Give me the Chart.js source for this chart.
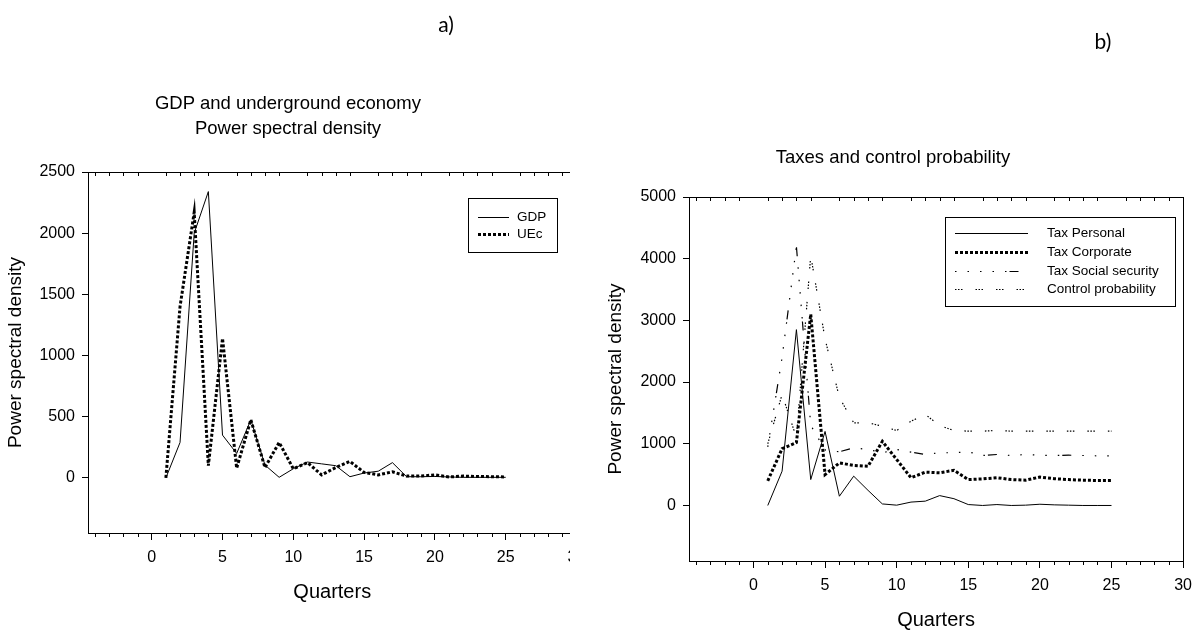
<!DOCTYPE html>
<html>
<head>
<meta charset="utf-8">
<script src="https://cdn.jsdelivr.net/npm/chart.js@4.4.1/dist/chart.umd.min.js"></script>
<style>
  html, body { margin: 0; padding: 0; background: #fff; }
  body { width: 1200px; height: 634px; position: relative; overflow: hidden;
         font-family: "Liberation Sans", Arial, sans-serif; color: #000; }
  .panel { position: absolute; top: 0; height: 634px; overflow: hidden; }
  #wrapA { left: 0; width: 570px; }
  #wrapB { left: 600px; width: 600px; }
  .txt { position: absolute; white-space: nowrap; transform: translate(-50%, -50%); }
  .tag { font-family: Lato, "Open Sans", sans-serif; font-size: 21px; }
  .ttl { font-size: 18.5px; }
</style>
</head>
<body>
<div class="panel" id="wrapA"><canvas id="chartA" width="600" height="634"></canvas></div>
<div class="panel" id="wrapB"><canvas id="chartB" width="600" height="634"></canvas></div>

<div class="txt tag" style="left:446px; top:23px;">a)</div>
<div class="txt tag" style="left:1103px; top:40px;">b)</div>
<div class="txt ttl" style="left:288px; top:103px;">GDP and underground economy</div>
<div class="txt ttl" style="left:288px; top:128px;">Power spectral density</div>
<div class="txt ttl" style="left:893px; top:157px;">Taxes and control probability</div>

<script>
// quarters on the x axis
const quarters = [1, 2, 3, 4, 5, 6, 7, 8, 9, 10, 11, 12, 13, 14, 15, 16, 17, 18, 19, 20, 21, 22, 23, 24, 25];

// a) GDP and underground economy
const gdp = [0, 290, 2000, 2340, 350, 200, 475, 105, 5, 75, 130, 115, 100, 10, 40, 55, 125, 10, 10, 12, 8, 5, 5, 5, 5];
const uec = [0, 1400, 2170, 100, 1140, 80, 475, 85, 290, 75, 125, 25, 85, 135, 45, 25, 50, 15, 15, 25, 8, 15, 12, 10, 8];

// b) taxes and control probability
const taxPersonal = [0, 556, 2850, 420, 1200, 150, 475, 245, 25, 5, 55, 70, 160, 110, 15, 0, 15, 0, 5, 20, 10, 5, 0, 0, 0];
const taxCorporate = [400, 920, 1020, 3100, 500, 690, 650, 635, 1040, 745, 450, 540, 530, 570, 420, 430, 450, 420, 410, 460, 435, 420, 410, 405, 405];
const taxSocial = [950, 2400, 4200, 1300, 900, 870, 935, 908, 855, 908, 865, 826, 855, 855, 870, 810, 826, 810, 826, 815, 810, 815, 810, 805, 805];
const controlProb = [1000, 1800, 1100, 4050, 2700, 1750, 1340, 1340, 1285, 1215, 1365, 1475, 1295, 1215, 1205, 1205, 1215, 1205, 1205, 1205, 1205, 1205, 1205, 1205, 1205];

// tick values
const xMajorTicks = [0, 5, 10, 15, 20, 25, 30];
const xMinorTicks = [-4, -3, -2, -1, 0, 1, 2, 3, 4, 5, 6, 7, 8, 9, 10, 11, 12, 13, 14, 15, 16, 17, 18, 19, 20, 21, 22, 23, 24, 25, 26, 27, 28, 29, 30];
const yTicksA = [0, 500, 1000, 1500, 2000, 2500];
const yTicksB = [0, 1000, 2000, 3000, 4000, 5000];

Chart.defaults.color = '#000';
Chart.defaults.font.family = '"Liberation Sans", Arial, sans-serif';

const toPoints = (ys) => ys.map((y, i) => ({x: quarters[i], y: y}));

// frame round the plot area + minor ticks (bottom outward, top inward)
const frameTicks = {
    id: 'frameTicks',
    afterDraw(chart) {
        const {ctx, chartArea: a, scales: {x}} = chart;
        ctx.save();
        ctx.strokeStyle = '#000';
        ctx.lineWidth = 1;
        ctx.strokeRect(Math.round(a.left) + 0.5, Math.round(a.top) + 0.5,
            Math.round(a.right - a.left), Math.round(a.bottom - a.top));
        ctx.beginPath();
        xMinorTicks.forEach(v => {
            if (xMajorTicks.includes(v)) return;
            const px = Math.round(x.getPixelForValue(v)) + 0.5;
            ctx.moveTo(px, a.bottom);
            ctx.lineTo(px, a.bottom + 4);
            ctx.moveTo(px, a.top);
            ctx.lineTo(px, a.top + 4);
        });
        ctx.stroke();
        ctx.restore();
    }
};

// boxed legend inside the plot, like the original
const boxLegend = {
    id: 'boxLegend',
    afterDraw(chart, args, opts) {
        const {ctx} = chart;
        const b = opts.box;
        ctx.save();
        ctx.strokeStyle = '#000';
        ctx.lineWidth = 1;
        ctx.strokeRect(b.x + 0.5, b.y + 0.5, b.w, b.h);
        ctx.font = '13.5px "Liberation Sans", Arial, sans-serif';
        ctx.fillStyle = '#000';
        ctx.textBaseline = 'middle';
        chart.data.datasets.forEach((ds, i) => {
            const y = Math.round(b.y + opts.firstRow + i * opts.rowGap) + 0.5;
            ctx.beginPath();
            ctx.lineWidth = ds.borderWidth;
            ctx.setLineDash(ds.borderDash || []);
            ctx.moveTo(opts.lineFrom, y);
            ctx.lineTo(opts.lineTo, y);
            ctx.stroke();
            ctx.setLineDash([]);
            ctx.fillText(ds.label, opts.textX, y);
        });
        ctx.restore();
    }
};

function makeChart(id, datasets, opts) {
    new Chart(document.getElementById(id), {
        type: 'line',
        data: {datasets: datasets},
        options: {
            responsive: false,
            animation: false,
            events: [],
            layout: {padding: opts.padding},
            elements: {
                point: {radius: 0},
                line: {tension: 0, borderColor: '#000', fill: false},
            },
            scales: {
                x: {
                    type: 'linear',
                    min: -4.5,
                    max: 30,
                    afterBuildTicks: (s) => { s.ticks = xMajorTicks.map(v => ({value: v})); },
                    afterFit: (s) => { s.height = opts.xHeight; },
                    border: {display: false},
                    grid: {drawOnChartArea: false, drawTicks: true, tickLength: 7, tickColor: '#000'},
                    ticks: {font: {size: 16}, padding: 8, maxRotation: 0, autoSkip: false, callback: (v) => String(v)},
                    title: {display: true, text: 'Quarters', font: {size: 20}, padding: {top: 0, bottom: opts.xTitlePad}},
                },
                y: {
                    min: opts.yMin,
                    max: opts.yMax,
                    afterBuildTicks: (s) => { s.ticks = opts.yTicks.map(v => ({value: v})); },
                    afterFit: (s) => { s.width = opts.yWidth; },
                    border: {display: false},
                    grid: {drawOnChartArea: false, drawTicks: true, tickLength: 6, tickColor: '#000'},
                    ticks: {font: {size: 16}, padding: 7, callback: (v) => String(v)},
                    title: {display: true, text: 'Power spectral density', font: {size: 19}, padding: {top: 4, bottom: 0}},
                },
            },
            plugins: {
                legend: {display: false},
                tooltip: {enabled: false},
                boxLegend: opts.legend,
            },
        },
        plugins: [frameTicks, boxLegend],
    });
}

(function () {
    makeChart('chartA', [
        {label: 'GDP', data: toPoints(gdp), borderWidth: 1},
        {label: 'UEc', data: toPoints(uec), borderWidth: 3, borderDash: [3, 2]},
    ], {
        padding: {top: 172, right: 23.5, bottom: 0, left: 0},
        xHeight: 101,
        yWidth: 88,
        yMin: -450,
        yMax: 2500,
        yTicks: yTicksA,
        xTitlePad: 30,
        legend: {box: {x: 468, y: 198, w: 89, h: 54}, firstRow: 18.5, rowGap: 17.6, lineFrom: 478, lineTo: 509, textX: 517},
    });

    makeChart('chartB', [
        {label: 'Tax Personal', data: toPoints(taxPersonal), borderWidth: 1},
        {label: 'Tax Corporate', data: toPoints(taxCorporate), borderWidth: 3, borderDash: [3, 2]},
        {label: 'Tax Social security', data: toPoints(taxSocial), borderWidth: 1.2, borderDash: [1.5, 11, 1.5, 11, 1.5, 11, 1.5, 11, 1.5, 3, 9, 11]},
        {label: 'Control probability', data: toPoints(controlProb), borderWidth: 1.2, borderDash: [1.5, 1.5, 1.5, 1.5, 1.5, 13]},
    ], {
        padding: {top: 197, right: 12, bottom: 0, left: 0},
        xHeight: 73,
        yWidth: 89,
        yMin: -900,
        yMax: 5000,
        yTicks: yTicksB,
        xTitlePad: 2,
        legend: {box: {x: 345, y: 217, w: 230, h: 89}, firstRow: 16.3, rowGap: 18.6, lineFrom: 355, lineTo: 428, textX: 447},
    });
})();
</script>
</body>
</html>
